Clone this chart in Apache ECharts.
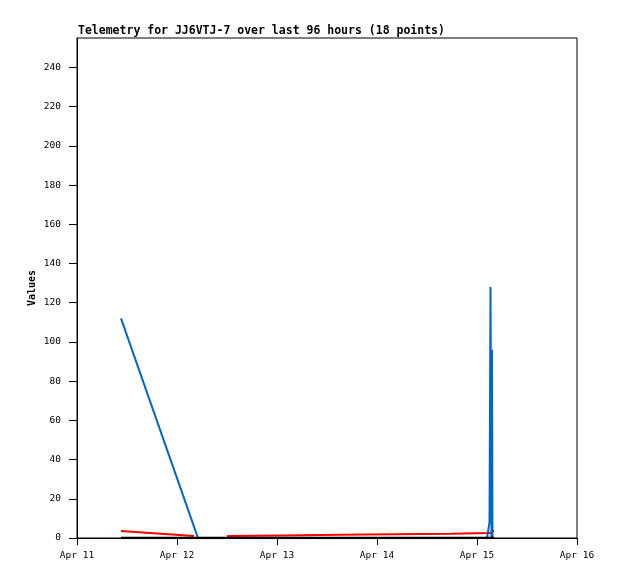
<!DOCTYPE html>
<html>
<head>
<meta charset="utf-8">
<script src="https://cdn.jsdelivr.net/npm/echarts@6/dist/echarts.min.js"></script>
<style>html,body{margin:0;padding:0;background:#fff}#c{width:618px;height:579px}</style>
</head>
<body>
<div id="c"></div>
<script>
// time of each packet, in days after Apr 11 00:00
const times = [0.44, 1.17, 1.21, 1.50, 2.06, 2.62, 3.18, 3.74, 4.10, 4.12, 4.125, 4.135, 4.14, 4.145, 4.15, 4.155, 4.16, 4.17];
const blueValues  = [112, 5.8, 0, 0, 0, 0, 0, 0, 0, 0, 8, 128, 128, 0, 96, 0, 0, 0];
const redValues   = [3.6, 1.0, null, 1.0, 1.3, 1.6, 1.9, 2.2, 2.5, 2.6, 2.6, 2.6, 2.7, 2.7, 2.7, 2.7, 3.6, 3.6];
const blackValues = [0, 0, 0, 0, 0, 0, 0, 0, 0, 0, 0, 0, 0, 0, 0, 0, 0, 0];
const xTickLabels = ['Apr 11', 'Apr 12', 'Apr 13', 'Apr 14', 'Apr 15', 'Apr 16'];
const yTicks = [0, 20, 40, 60, 80, 100, 120, 140, 160, 180, 200, 220, 240];
const titleText = 'Telemetry for JJ6VTJ-7 over last 96 hours (18 points)';
const yAxisTitle = 'Values';

const mono = '"DejaVu Sans Mono", "Liberation Mono", monospace';
const pair = vals => times.map((t, i) => [t, vals[i]]);

const chart = echarts.init(document.getElementById('c'), null, {renderer: 'canvas'});
chart.setOption({
  animation: false,
  backgroundColor: '#fff',
  title: {
    text: titleText, left: 73, top: 20,
    textStyle: {fontFamily: mono, fontSize: 11.5, fontWeight: 'bold', color: '#000'}
  },
  grid: {left: 77, top: 38, width: 500, height: 500, show: true, borderColor: '#000', borderWidth: 1, backgroundColor: 'transparent'},
  xAxis: {
    type: 'value', min: 0, max: 5, interval: 1,
    axisLine: {show: true, onZero: false, lineStyle: {color: '#000', width: 1}},
    axisTick: {show: true, length: 7, inside: false, lineStyle: {color: '#000'}},
    splitLine: {show: false},
    axisLabel: {margin: 13, color: '#000', fontFamily: mono, fontSize: 9.5,
      formatter: v => xTickLabels[Math.round(v)] || ''}
  },
  yAxis: {
    type: 'value', min: 0, max: 255, interval: 20,
    name: yAxisTitle, nameLocation: 'middle', nameGap: 40, nameMoveOverlap: false,
    nameTextStyle: {fontFamily: mono, fontSize: 10, fontWeight: 'bold', color: '#000'},
    axisLine: {show: true, lineStyle: {color: '#000', width: 1}},
    axisTick: {show: true, length: 8, customValues: yTicks, lineStyle: {color: '#000'}},
    splitLine: {show: false},
    axisLabel: {margin: 16, color: '#000', fontFamily: mono, fontSize: 9.5, customValues: yTicks,
      formatter: v => String(v)}
  },
  series: [
    {type: 'line', data: pair(redValues), symbol: 'none', connectNulls: false,
      lineStyle: {color: '#ff0000', width: 2}, z: 2},
    {type: 'line', data: pair(blueValues), symbol: 'none',
      lineStyle: {color: '#0066cc', width: 2}, z: 3},
    {type: 'line', data: pair(blackValues), symbol: 'none',
      lineStyle: {color: '#000000', width: 2.5}, z: 4}
  ]
});
</script>
</body>
</html>
